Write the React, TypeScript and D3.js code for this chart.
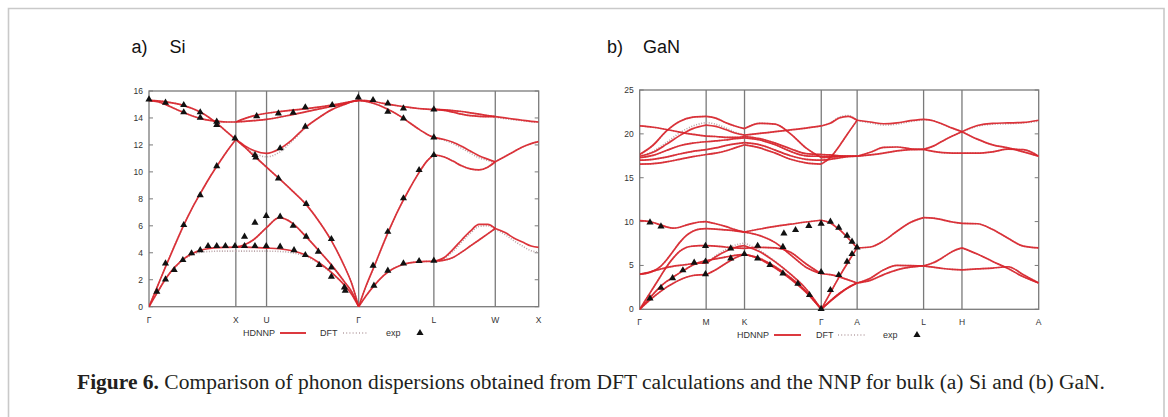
import React from 'react';
import * as d3 from 'd3';

// ---------------- Si (a) ----------------
const siPointLabels = ['Γ', 'X', 'U', 'Γ', 'L', 'W', 'X'];
const siPointK = [0, 1, 1.3536, 2.4142, 3.2802, 3.9873, 4.4873];
const siYTicks = [0, 2, 4, 6, 8, 10, 12, 14, 16];

// Γ-X
const siGX_k = [0, 0.1, 0.2, 0.3, 0.4, 0.5, 0.6, 0.7, 0.8, 0.9, 1.0];
const siGX_TA = [0, 1.1, 2.15, 2.95, 3.55, 3.95, 4.2, 4.32, 4.38, 4.4, 4.42];
const siGX_LA = [0, 1.55, 3.1, 4.6, 6.05, 7.35, 8.5, 9.6, 10.6, 11.55, 12.4];
const siGX_LO = [15.3, 15.27, 15.2, 15.08, 14.92, 14.7, 14.4, 14.0, 13.5, 12.95, 12.4];
const siGX_TO = [15.3, 15.2, 14.97, 14.68, 14.4, 14.15, 13.95, 13.82, 13.74, 13.7, 13.7];
// X-U-Γ
const siXG_k = [1.0, 1.1, 1.2, 1.3536, 1.5, 1.65, 1.8, 1.95, 2.1, 2.25, 2.33, 2.4142];
const siXG_TA1 = [4.42, 4.42, 4.4, 4.35, 4.3, 4.15, 3.85, 3.3, 2.55, 1.6, 0.95, 0];
const siXG_TA2 = [4.42, 4.6, 4.95, 5.86, 6.6, 6.2, 5.25, 4.2, 3.1, 1.85, 1.15, 0];
const siXG_LA = [12.4, 11.85, 11.25, 10.35, 9.5, 8.6, 7.65, 6.4, 4.9, 3.0, 1.8, 0];
const siXG_LO = [12.4, 11.95, 11.6, 11.38, 11.7, 12.4, 13.3, 14.0, 14.6, 15.0, 15.2, 15.3];
const siXG_TO1 = [13.7, 13.95, 14.15, 14.35, 14.47, 14.58, 14.68, 14.8, 14.95, 15.12, 15.22, 15.3];
const siXG_TO2 = [13.7, 13.74, 13.8, 13.9, 14.05, 14.25, 14.45, 14.65, 14.85, 15.05, 15.2, 15.3];
// Γ-L
const siGL_k = [2.4142, 2.5, 2.6, 2.7, 2.8, 2.9, 3.0, 3.1, 3.2, 3.2802];
const siGL_TA = [0, 0.82, 1.62, 2.3, 2.78, 3.08, 3.25, 3.33, 3.36, 3.37];
const siGL_LA = [0, 1.55, 3.1, 4.7, 6.2, 7.55, 8.75, 9.85, 10.8, 11.27];
const siGL_LO = [15.3, 15.22, 15.05, 14.8, 14.48, 14.1, 13.65, 13.2, 12.8, 12.56];
const siGL_TO = [15.3, 15.28, 15.2, 15.08, 14.97, 14.87, 14.78, 14.7, 14.65, 14.63];
// L-W
const siLW_k = [3.2802, 3.4, 3.5, 3.6, 3.7, 3.8, 3.9, 3.9873];
const siLW_TAu = [3.37, 3.65, 4.25, 4.95, 5.6, 6.1, 6.1, 5.8];
const siLW_TAl = [3.37, 3.45, 3.65, 4.05, 4.5, 4.95, 5.4, 5.8];
const siLW_LA = [11.27, 11.1, 10.8, 10.45, 10.22, 10.15, 10.35, 10.75];
const siLW_LO = [12.56, 12.4, 12.2, 11.9, 11.55, 11.2, 10.95, 10.75];
const siLW_TO1 = [14.63, 14.6, 14.55, 14.48, 14.38, 14.28, 14.18, 14.1];
const siLW_TO2 = [14.63, 14.56, 14.43, 14.28, 14.17, 14.12, 14.1, 14.1];
// W-X
const siWX_k = [3.9873, 4.1, 4.2, 4.3, 4.4, 4.4873];
const siWX_TA = [5.8, 5.5, 5.1, 4.8, 4.5, 4.4];
const siWX_LA = [10.75, 11.15, 11.5, 11.85, 12.1, 12.25];
const siWX_TO = [14.1, 14.0, 13.92, 13.83, 13.75, 13.7];

// DFT values where they differ visibly from HDNNP
const siDft_GX_TA = [0, 1.1, 2.15, 2.9, 3.5, 3.85, 4.05, 4.1, 4.12, 4.12, 4.12];
const siDft_XG_TA1 = [4.12, 4.12, 4.12, 4.12, 4.1, 4.0, 3.75, 3.25, 2.5, 1.6, 0.95, 0];
const siDft_XG_LO = [12.4, 11.9, 11.45, 11.12, 11.45, 12.3, 13.25, 14.0, 14.6, 15.0, 15.2, 15.3];
const siDft_LW_TAu = [3.37, 3.6, 4.1, 4.8, 5.45, 5.95, 6.0, 5.75];
const siDft_LW_LO = [12.56, 12.35, 12.1, 11.75, 11.4, 11.05, 10.85, 10.7];
const siDft_WX_TA = [5.75, 5.35, 4.9, 4.5, 4.15, 4.05];
const siDft_WX_TO = [14.05, 13.95, 13.87, 13.8, 13.72, 13.68];

const siExp: [number, number][] = [
  [0, 15.38], [0.19, 15.13], [0.4, 14.96], [0.4, 14.42], [0.59, 14.42], [0.59, 14.02], [0.78, 13.72], [0.78, 13.48],
  [0.99, 12.49], [0.78, 10.43], [0.59, 8.28], [0.4, 6.06], [0.19, 3.21], [0.19, 2.03], [0.09, 1.11], [0.29, 2.72],
  [0.39, 3.46], [0.49, 3.96], [0.59, 4.2], [0.68, 4.5], [0.78, 4.5], [0.88, 4.5], [0.99, 4.5], [1.1, 4.5],
  [1.1, 5.19], [1.22, 6.23], [1.35, 6.73], [1.22, 4.5], [1.35, 4.5], [1.51, 6.68], [1.51, 4.45], [1.66, 6.0],
  [1.67, 4.2], [1.81, 5.19], [1.8, 3.83], [1.95, 4.08], [1.96, 3.09], [2.1, 5.02], [2.1, 2.92], [2.1, 2.23],
  [2.25, 1.43], [2.26, 1.19], [1.81, 7.62], [1.49, 9.52], [1.22, 11.25], [1.23, 11.08], [1.51, 11.75], [1.8, 13.35],
  [1.24, 14.14], [1.49, 14.34], [1.66, 14.39], [1.8, 14.79], [2.11, 14.96], [2.41, 15.53], [2.58, 15.33], [2.75, 15.08],
  [2.75, 14.46], [2.93, 14.71], [2.93, 13.97], [3.28, 14.64], [3.28, 12.56], [3.28, 11.25], [3.11, 10.14], [2.93, 8.04],
  [2.75, 5.56], [2.58, 3.04], [2.59, 1.56], [2.75, 2.67], [2.93, 3.21], [3.11, 3.39], [3.28, 3.41],
];

// ---------------- GaN (b) ----------------
const ganPointLabels = ['Γ', 'M', 'K', 'Γ', 'A', 'L', 'H', 'A'];
const ganPointK = [0, 1, 1.5774, 2.7321, 3.2721, 4.2721, 4.8495, 6.0042];
const ganYTicks = [0, 5, 10, 15, 20, 25];

// Γ-M low
const ganGM_k = [0, 0.1, 0.2, 0.3, 0.4, 0.5, 0.6, 0.7, 0.8, 0.9, 1.0];
const ganGM_TA1 = [0, 0.7, 1.35, 1.95, 2.5, 2.95, 3.35, 3.65, 3.85, 3.93, 3.95];
const ganGM_TA2 = [0, 0.85, 1.7, 2.5, 3.15, 3.65, 4.15, 4.6, 5.05, 5.35, 5.55];
const ganGM_LA = [0, 1.2, 2.4, 3.6, 4.8, 5.8, 6.6, 7.05, 7.2, 7.25, 7.25];
const ganGM_O1 = [4.0, 4.1, 4.35, 4.8, 5.6, 6.6, 7.6, 8.4, 8.9, 9.15, 9.2];
const ganGM_O2 = [4.0, 4.15, 4.35, 4.55, 4.75, 4.9, 5.0, 5.1, 5.2, 5.25, 5.25];
const ganGM_B1 = [10.1, 10.05, 9.9, 9.65, 9.4, 9.25, 9.35, 9.6, 9.8, 9.95, 10.0];
// Γ-M high
const ganGMh_k = [0, 0.2, 0.4, 0.6, 0.8, 1.0];
const ganGMh_A = [20.9, 20.75, 20.5, 20.2, 19.95, 19.75];
const ganGMh_B = [17.65, 18.7, 20.3, 21.4, 21.9, 22.0];
const ganGMh_C = [17.45, 17.9, 18.8, 19.8, 20.6, 21.0];
const ganGMh_D = [17.3, 17.55, 18.1, 18.65, 18.95, 19.1];
const ganGMh_E = [17.0, 17.1, 17.35, 17.7, 18.0, 18.2];
const ganGMh_F = [16.55, 16.6, 16.8, 17.1, 17.4, 17.65];
// M-K
const ganMK_k = [1.0, 1.1443, 1.2887, 1.433, 1.5774];
const ganMK_TA1 = [3.95, 4.5, 5.2, 5.85, 6.27];
const ganMK_TA2 = [5.55, 5.75, 5.95, 6.15, 6.27];
const ganMK_O2 = [5.25, 6.0, 6.6, 7.05, 7.25];
const ganMK_LA = [7.25, 7.2, 7.1, 7.0, 6.95];
const ganMK_O1 = [9.2, 9.15, 9.05, 8.95, 8.8];
const ganMK_B1 = [10.0, 9.75, 9.45, 9.1, 8.8];
const ganMKh_B = [22.0, 21.8, 21.3, 20.9, 20.6];
const ganMKh_C = [21.0, 20.85, 20.5, 20.1, 19.85];
const ganMKh_A = [19.75, 19.7, 19.6, 19.6, 19.7];
const ganMKh_D = [19.1, 19.2, 19.3, 19.45, 19.55];
const ganMKh_E = [18.2, 18.4, 18.65, 18.85, 19.0];
const ganMKh_F = [17.65, 17.8, 18.05, 18.4, 18.75];
// K-Γ
const ganKG_k = [1.5774, 1.8083, 2.0393, 2.2702, 2.5012, 2.7321];
const ganKG_TA1 = [6.27, 5.7, 4.7, 3.45, 1.95, 0];
const ganKG_TA2 = [6.27, 5.8, 4.85, 3.6, 2.05, 0];
const ganKG_O2 = [7.25, 6.55, 5.4, 4.0, 2.35, 0];
const ganKG_LA = [6.95, 7.05, 7.0, 6.5, 5.2, 4.05];
const ganKG_O1 = [8.8, 8.4, 7.6, 6.2, 4.8, 4.05];
const ganKG_B1 = [8.8, 9.15, 9.45, 9.7, 9.95, 10.15];
const ganKGh_B = [20.6, 21.2, 21.1, 20.0, 18.4, 17.3];
const ganKGh_C = [19.85, 20.05, 20.25, 20.45, 20.65, 20.9];
const ganKGh_A = [19.7, 19.45, 18.95, 18.3, 17.75, 17.65];
const ganKGh_D = [19.55, 19.3, 18.75, 18.0, 17.5, 17.45];
const ganKGh_E = [19.0, 18.75, 18.15, 17.5, 17.1, 17.0];
const ganKGh_F = [18.75, 18.4, 17.8, 17.1, 16.7, 16.55];
// Γ-A
const ganGA_k = [2.7321, 2.8671, 3.0021, 3.1371, 3.2721];
const ganGA_TA1 = [0, 0.9, 1.75, 2.45, 3.0];
const ganGA_TA2 = [0, 0.95, 1.8, 2.5, 3.0];
const ganGA_O2 = [0, 1.85, 3.7, 5.4, 7.0];
const ganGA_LA = [4.05, 3.95, 3.7, 3.35, 3.0];
const ganGA_B1 = [10.15, 9.85, 9.1, 8.1, 7.0];
const ganGAh_C = [20.9, 21.2, 21.8, 22.0, 21.55];
const ganGAh_F = [16.55, 17.3, 18.6, 20.1, 21.55];
const ganGAh_A = [17.65, 17.6, 17.5, 17.45, 17.45];
const ganGAh_D = [17.45, 17.45, 17.45, 17.45, 17.45];
const ganGAh_B = [17.3, 17.35, 17.4, 17.45, 17.45];
const ganGAh_E = [17.0, 17.1, 17.25, 17.4, 17.45];
// A-L
const ganAL_k = [3.2721, 3.4721, 3.6721, 3.8721, 4.0721, 4.2721];
const ganAL_lo1 = [3.0, 3.55, 4.5, 5.0, 4.98, 4.95];
const ganAL_lo2 = [3.0, 3.3, 3.95, 4.5, 4.8, 4.95];
const ganAL_lo3 = [7.0, 7.1, 7.8, 8.9, 9.9, 10.45];
const ganAL_hiT = [21.55, 21.35, 21.15, 21.25, 21.5, 21.65];
const ganAL_hiM = [17.45, 17.9, 18.45, 18.5, 18.3, 18.24];
const ganAL_hiL = [17.45, 17.6, 17.8, 18.05, 18.2, 18.24];
// L-H
const ganLH_k = [4.2721, 4.4164, 4.5608, 4.7051, 4.8495];
const ganLH_lo3 = [10.45, 10.4, 10.2, 9.95, 9.8];
const ganLH_lo1 = [4.95, 5.3, 5.9, 6.6, 7.0];
const ganLH_lo2 = [4.95, 4.8, 4.65, 4.55, 4.5];
const ganLH_hiT = [21.65, 21.5, 21.1, 20.65, 20.25];
const ganLH_hiM = [18.24, 18.6, 19.2, 19.75, 20.25];
const ganLH_hiL = [18.24, 18.0, 17.85, 17.8, 17.8];
// H-A
const ganHA_k = [4.8495, 5.0804, 5.3114, 5.5423, 5.7733, 6.0042];
const ganHA_lo3 = [9.8, 9.75, 9.1, 8.1, 7.2, 7.0];
const ganHA_lo1 = [7.0, 6.3, 5.45, 4.65, 3.7, 3.0];
const ganHA_lo2 = [4.5, 4.6, 4.7, 4.85, 3.95, 3.0];
const ganHA_hiT = [20.25, 19.4, 18.75, 18.4, 17.95, 17.45];
const ganHA_hiM = [20.25, 20.95, 21.2, 21.25, 21.3, 21.55];
const ganHA_hiL = [17.8, 17.8, 17.95, 18.25, 18.2, 17.45];

// DFT values where they differ visibly from HDNNP
const ganDft_GMh_C = [17.45, 18.0, 19.0, 20.1, 20.9, 21.3];
const ganDft_MKh_C = [21.3, 21.1, 20.7, 20.2, 19.85];
const ganDft_MK_O2 = [5.25, 6.1, 6.8, 7.3, 7.55];
const ganDft_KG_O2 = [7.55, 6.7, 5.45, 4.0, 2.35, 0];
const ganDft_GAh_C = [20.9, 21.25, 21.9, 22.1, 21.5];
const ganDft_AL_hiT = [21.5, 21.25, 21.0, 21.1, 21.4, 21.6];
const ganDft_HA_hiM = [20.25, 20.85, 21.1, 21.15, 21.25, 21.45];

const ganExp: [number, number][] = [
  [0.155, 9.9], [0.32, 9.45], [0.155, 1.25], [0.32, 2.45], [0.495, 3.55], [0.65, 4.45], [0.82, 5.32], [0.99, 5.45],
  [0.99, 7.22], [0.99, 4.0], [1.37, 6.95], [1.37, 5.81], [1.575, 6.3], [1.775, 7.24], [1.775, 5.81], [1.96, 5.05],
  [2.155, 4.1], [2.155, 7.12], [2.17, 8.66], [2.345, 9.04], [2.545, 9.5], [2.73, 9.76], [2.73, 4.25], [2.73, 0.05],
  [2.38, 2.92], [2.555, 1.63], [2.87, 9.99], [2.995, 9.3], [3.12, 8.39], [3.195, 7.71], [3.27, 7.06], [3.195, 6.3],
  [3.12, 5.43], [2.995, 3.91], [2.87, 2.2],
];

type Seg = { k: number[]; bands: number[][] };

const siHdnnp: Seg[] = [
  { k: siGX_k, bands: [siGX_TA, siGX_LA, siGX_LO, siGX_TO] },
  { k: siXG_k, bands: [siXG_TA1, siXG_TA2, siXG_LA, siXG_LO, siXG_TO1, siXG_TO2] },
  { k: siGL_k, bands: [siGL_TA, siGL_LA, siGL_LO, siGL_TO] },
  { k: siLW_k, bands: [siLW_TAu, siLW_TAl, siLW_LA, siLW_LO, siLW_TO1, siLW_TO2] },
  { k: siWX_k, bands: [siWX_TA, siWX_LA, siWX_TO] },
];
const siDft: Seg[] = [
  { k: siGX_k, bands: [siDft_GX_TA, siGX_LA, siGX_LO, siGX_TO] },
  { k: siXG_k, bands: [siDft_XG_TA1, siXG_TA2, siXG_LA, siDft_XG_LO, siXG_TO1, siXG_TO2] },
  { k: siGL_k, bands: [siGL_TA, siGL_LA, siGL_LO, siGL_TO] },
  { k: siLW_k, bands: [siDft_LW_TAu, siLW_TAl, siLW_LA, siDft_LW_LO, siLW_TO1, siLW_TO2] },
  { k: siWX_k, bands: [siDft_WX_TA, siWX_LA, siDft_WX_TO] },
];

const ganHdnnp: Seg[] = [
  { k: ganGM_k, bands: [ganGM_TA1, ganGM_TA2, ganGM_LA, ganGM_O1, ganGM_O2, ganGM_B1] },
  { k: ganGMh_k, bands: [ganGMh_A, ganGMh_B, ganGMh_C, ganGMh_D, ganGMh_E, ganGMh_F] },
  { k: ganMK_k, bands: [ganMK_TA1, ganMK_TA2, ganMK_O2, ganMK_LA, ganMK_O1, ganMK_B1,
    ganMKh_B, ganMKh_C, ganMKh_A, ganMKh_D, ganMKh_E, ganMKh_F] },
  { k: ganKG_k, bands: [ganKG_TA1, ganKG_TA2, ganKG_O2, ganKG_LA, ganKG_O1, ganKG_B1,
    ganKGh_B, ganKGh_C, ganKGh_A, ganKGh_D, ganKGh_E, ganKGh_F] },
  { k: ganGA_k, bands: [ganGA_TA1, ganGA_TA2, ganGA_O2, ganGA_LA, ganGA_B1,
    ganGAh_C, ganGAh_F, ganGAh_A, ganGAh_D, ganGAh_B, ganGAh_E] },
  { k: ganAL_k, bands: [ganAL_lo1, ganAL_lo2, ganAL_lo3, ganAL_hiT, ganAL_hiM, ganAL_hiL] },
  { k: ganLH_k, bands: [ganLH_lo3, ganLH_lo1, ganLH_lo2, ganLH_hiT, ganLH_hiM, ganLH_hiL] },
  { k: ganHA_k, bands: [ganHA_lo3, ganHA_lo1, ganHA_lo2, ganHA_hiT, ganHA_hiM, ganHA_hiL] },
];
const ganDft: Seg[] = [
  { k: ganGM_k, bands: [ganGM_TA1, ganGM_TA2, ganGM_LA, ganGM_O1, ganGM_O2, ganGM_B1] },
  { k: ganGMh_k, bands: [ganGMh_A, ganGMh_B, ganDft_GMh_C, ganGMh_D, ganGMh_E, ganGMh_F] },
  { k: ganMK_k, bands: [ganMK_TA1, ganMK_TA2, ganDft_MK_O2, ganMK_LA, ganMK_O1, ganMK_B1,
    ganMKh_B, ganDft_MKh_C, ganMKh_A, ganMKh_D, ganMKh_E, ganMKh_F] },
  { k: ganKG_k, bands: [ganKG_TA1, ganKG_TA2, ganDft_KG_O2, ganKG_LA, ganKG_O1, ganKG_B1,
    ganKGh_B, ganKGh_C, ganKGh_A, ganKGh_D, ganKGh_E, ganKGh_F] },
  { k: ganGA_k, bands: [ganGA_TA1, ganGA_TA2, ganGA_O2, ganGA_LA, ganGA_B1,
    ganDft_GAh_C, ganGAh_F, ganGAh_A, ganGAh_D, ganGAh_B, ganGAh_E] },
  { k: ganAL_k, bands: [ganAL_lo1, ganAL_lo2, ganAL_lo3, ganDft_AL_hiT, ganAL_hiM, ganAL_hiL] },
  { k: ganLH_k, bands: [ganLH_lo3, ganLH_lo1, ganLH_lo2, ganLH_hiT, ganLH_hiM, ganLH_hiL] },
  { k: ganHA_k, bands: [ganHA_lo3, ganHA_lo1, ganHA_lo2, ganHA_hiT, ganDft_HA_hiM, ganHA_hiL] },
];

const RED = '#d9232a';
const DFT_COLOR = '#b8a2a6';
const AXIS = '#7a7a7a';
const SANS = '"Liberation Sans", Arial, sans-serif';

type PanelProps = {
  x0: number; x1: number; yTop: number; yBot: number;
  kMax: number; eMax: number; yTicks: number[];
  pointK: number[]; pointLabels: string[];
  hdnnp: Seg[]; dft: Seg[]; exp: [number, number][];
  labelY: number; legendY: number;
  legendX: { hd: number; l0: number; l1: number; dft: number; d0: number; d1: number; exp: number; tri: number };
  title: [string, string]; titleX: [number, number];
};

const triPath = d3.symbol().type(d3.symbolTriangle).size(22)() as string;

function Panel(p: PanelProps) {
  const xs = d3.scaleLinear().domain([0, p.kMax]).range([p.x0, p.x1]);
  const ys = d3.scaleLinear().domain([0, p.eMax]).range([p.yBot, p.yTop]);
  const line = d3.line<[number, number]>().x(d => xs(d[0])).y(d => ys(d[1])).curve(d3.curveMonotoneX);
  const paths = (segs: Seg[]) =>
    segs.flatMap(s => s.bands.map(b => line(s.k.map((k, i) => [k, b[i]] as [number, number])) as string));
  const dftPaths = paths(p.dft);
  const hdPaths = paths(p.hdnnp);
  const ly = p.legendY;
  return (
    <g>
      <text x={p.titleX[0]} y={53} fontFamily={SANS} fontSize={18} fill="#111">{p.title[0]}</text>
      <text x={p.titleX[1]} y={53} fontFamily={SANS} fontSize={18} fill="#111">{p.title[1]}</text>
      <defs>
        <clipPath id={`clip-${p.x0}`}>
          <rect x={p.x0} y={p.yTop - 4} width={p.x1 - p.x0} height={p.yBot - p.yTop + 8} />
        </clipPath>
      </defs>
      {/* y ticks */}
      {p.yTicks.map(t => (
        <g key={`yt${t}`}>
          <line x1={p.x0} x2={p.x0 + 4} y1={ys(t)} y2={ys(t)} stroke={AXIS} strokeWidth={1} />
          <line x1={p.x1 - 4} x2={p.x1} y1={ys(t)} y2={ys(t)} stroke={AXIS} strokeWidth={1} />
          <text x={p.x0 - 6} y={ys(t) + 3} textAnchor="end" fontFamily={SANS} fontSize={8.5} fill="#333">{t}</text>
        </g>
      ))}
      {/* vertical high-symmetry lines */}
      {p.pointK.slice(1, -1).map((k, i) => (
        <line key={`v${i}`} x1={xs(k)} x2={xs(k)} y1={p.yTop} y2={p.yBot} stroke={AXIS} strokeWidth={1.3} />
      ))}
      <rect x={p.x0} y={p.yTop} width={p.x1 - p.x0} height={p.yBot - p.yTop} fill="none" stroke={AXIS} strokeWidth={1.3} />
      {/* x labels */}
      {p.pointK.map((k, i) => (
        <text key={`xl${i}`} x={xs(k)} y={p.labelY} textAnchor="middle" fontFamily={SANS} fontSize={8.5} fill="#333">{p.pointLabels[i]}</text>
      ))}
      <g clipPath={`url(#clip-${p.x0})`}>
        {dftPaths.map((d, i) => (
          <path key={`d${i}`} d={d} fill="none" stroke={DFT_COLOR} strokeWidth={1.6} strokeDasharray="1 1.6" />
        ))}
        {hdPaths.map((d, i) => (
          <path key={`h${i}`} d={d} fill="none" stroke={RED} strokeWidth={1.7} strokeOpacity={0.92} />
        ))}
      </g>
      {p.exp.map((e, i) => (
        <path key={`e${i}`} d={triPath} transform={`translate(${xs(e[0])},${ys(e[1])})`} fill="#111" />
      ))}
      {/* legend */}
      <text x={p.legendX.hd} y={ly + 3.2} fontFamily={SANS} fontSize={9} fill="#333">HDNNP</text>
      <line x1={p.legendX.l0} x2={p.legendX.l1} y1={ly} y2={ly} stroke={RED} strokeWidth={1.8} />
      <text x={p.legendX.dft} y={ly + 3.2} fontFamily={SANS} fontSize={9} fill="#333">DFT</text>
      <line x1={p.legendX.d0} x2={p.legendX.d1} y1={ly} y2={ly} stroke={DFT_COLOR} strokeWidth={1.4} strokeDasharray="1 2.2" />
      <text x={p.legendX.exp} y={ly + 3.2} fontFamily={SANS} fontSize={9} fill="#333">exp</text>
      <path d={triPath} transform={`translate(${p.legendX.tri},${ly})`} fill="#111" />
    </g>
  );
}

export default function App() {
  return (
    <svg width={1168} height={417} style={{ position: 'absolute', left: 0, top: 0, background: '#fff' }}>
      <rect x={0} y={0} width={1168} height={417} fill="#fff" />
      <path d="M8.5,430 L8.5,8.5 L1164,8.5 L1164,430" fill="none" stroke="#c9c9c9" strokeWidth={1.6} />
      <Panel
        x0={149} x1={538.7} yTop={91} yBot={306.7}
        kMax={siPointK[siPointK.length - 1]} eMax={16} yTicks={siYTicks}
        pointK={siPointK} pointLabels={siPointLabels}
        hdnnp={siHdnnp} dft={siDft} exp={siExp}
        labelY={322.5} legendY={333}
        legendX={{ hd: 243, l0: 280, l1: 306, dft: 320, d0: 343, d1: 368, exp: 386, tri: 420 }}
        title={['a)', 'Si']} titleX={[131.5, 169.5]}
      />
      <Panel
        x0={639.7} x1={1038.7} yTop={90} yBot={309.3}
        kMax={ganPointK[ganPointK.length - 1]} eMax={25} yTicks={ganYTicks}
        pointK={ganPointK} pointLabels={ganPointLabels}
        hdnnp={ganHdnnp} dft={ganDft} exp={ganExp}
        labelY={325} legendY={335}
        legendX={{ hd: 737, l0: 774, l1: 801, dft: 816, d0: 838, d1: 865, exp: 883, tri: 917 }}
        title={['b)', 'GaN']} titleX={[607, 643]}
      />
      <text x={77} y={389} fontFamily={'"Liberation Serif", "Times New Roman", serif'} fontSize={20} fill="#231f20"
        textLength={1028} lengthAdjust="spacingAndGlyphs">
        <tspan fontWeight="bold">Figure 6.</tspan>
        <tspan> Comparison of phonon dispersions obtained from DFT calculations and the NNP for bulk (a) Si and (b) GaN.</tspan>
      </text>
    </svg>
  );
}
